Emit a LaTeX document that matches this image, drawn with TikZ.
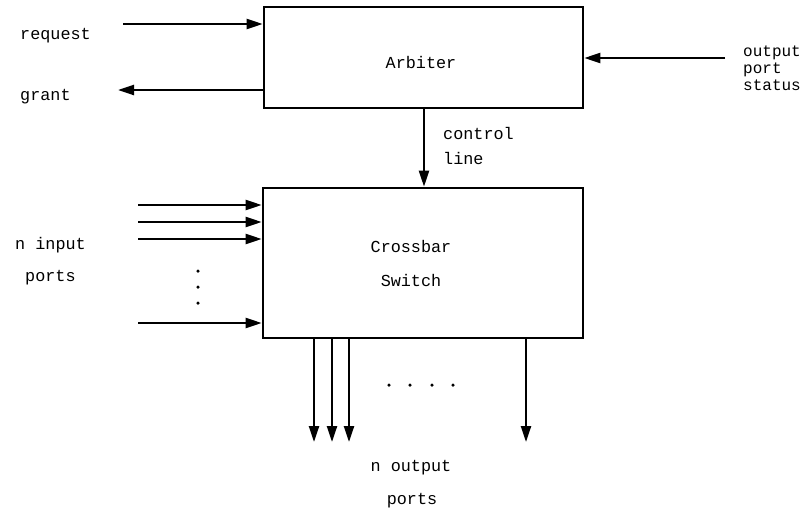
\documentclass[tikz,border=0pt]{standalone}
\usepackage{fontspec}
\setmainfont{Liberation Mono}
\usetikzlibrary{arrows.meta}
\begin{document}
\begin{tikzpicture}[x=1pt,y=-1pt,
  every node/.style={font=\fontsize{16.8}{18}\selectfont},
  blk/.style={draw,line width=2.6pt,inner sep=0pt},
  conn/.style={line width=2.3pt,-{Triangle[length=16pt,width=10pt]}},
  lbl/.style={inner sep=0pt,anchor=mid west,yshift=-2pt},
  clbl/.style={inner sep=0pt,anchor=mid,yshift=-2pt},
  dot/.style={circle,fill,inner sep=0pt,minimum size=3.5pt}]
\useasboundingbox (0,0) rectangle (809,509);
% boxes
\node[blk,minimum width=319pt,minimum height=101pt] (arb) at (423.5,57.5) {};
\node[blk,minimum width=320pt,minimum height=150pt] (xbar) at (423,263) {};
\node[clbl] (arbt) at (421,64) {Arbiter};
\node[clbl] (xbt1) at (411,248) {Crossbar};
\node[clbl] (xbt2) at (411,282) {Switch};
% labels
\node[lbl] (req) at (20,35) {request};
\node[lbl] (gr) at (20,96) {grant};
\node[inner sep=0pt,anchor=west,align=left,
  font=\fontsize{16}{17}\selectfont] (ops) at (743,68) {output\\port\\status};
\node[lbl] (ctl1) at (443,135) {control};
\node[lbl] (ctl2) at (443,160) {line};
\node[lbl] (nin1) at (15,245) {n input};
\node[lbl] (nin2) at (25,277) {ports};
\node[clbl] (nout1) at (411,467) {n output};
\node[clbl] (nout2) at (412,500) {ports};
% free ends
\coordinate (reqs) at (123,24);
\coordinate (grte) at (118,90);
\coordinate (opss) at (725,58);
\coordinate (in1) at (138,205);
\coordinate (in2) at (138,222);
\coordinate (in3) at (138,239);
\coordinate (in4) at (138,323);
\coordinate (o1) at (314,442);
\coordinate (o2) at (332,442);
\coordinate (o3) at (349,442);
\coordinate (o4) at (526,442);
\coordinate (cx) at (424,0);
% connectors
\draw[conn] (reqs) -- (reqs -| arb.west);
\draw[conn] (grte -| arb.west) -- (grte);
\draw[conn] (opss) -- (opss -| arb.east);
\draw[conn] (cx |- arb.south) -- (cx |- xbar.north);
\draw[conn] (in1) -- (in1 -| xbar.west);
\draw[conn] (in2) -- (in2 -| xbar.west);
\draw[conn] (in3) -- (in3 -| xbar.west);
\draw[conn] (in4) -- (in4 -| xbar.west);
\draw[conn] (o1 |- xbar.south) -- (o1);
\draw[conn] (o2 |- xbar.south) -- (o2);
\draw[conn] (o3 |- xbar.south) -- (o3);
\draw[conn] (o4 |- xbar.south) -- (o4);
% dots
\node[dot] (d1) at (198,271) {};
\node[dot] (d2) at (198,287) {};
\node[dot] (d3) at (198,303) {};
\node[dot] (d4) at (389,385) {};
\node[dot] (d5) at (410,385) {};
\node[dot] (d6) at (432,385) {};
\node[dot] (d7) at (453,385) {};
\end{tikzpicture}
\end{document}
